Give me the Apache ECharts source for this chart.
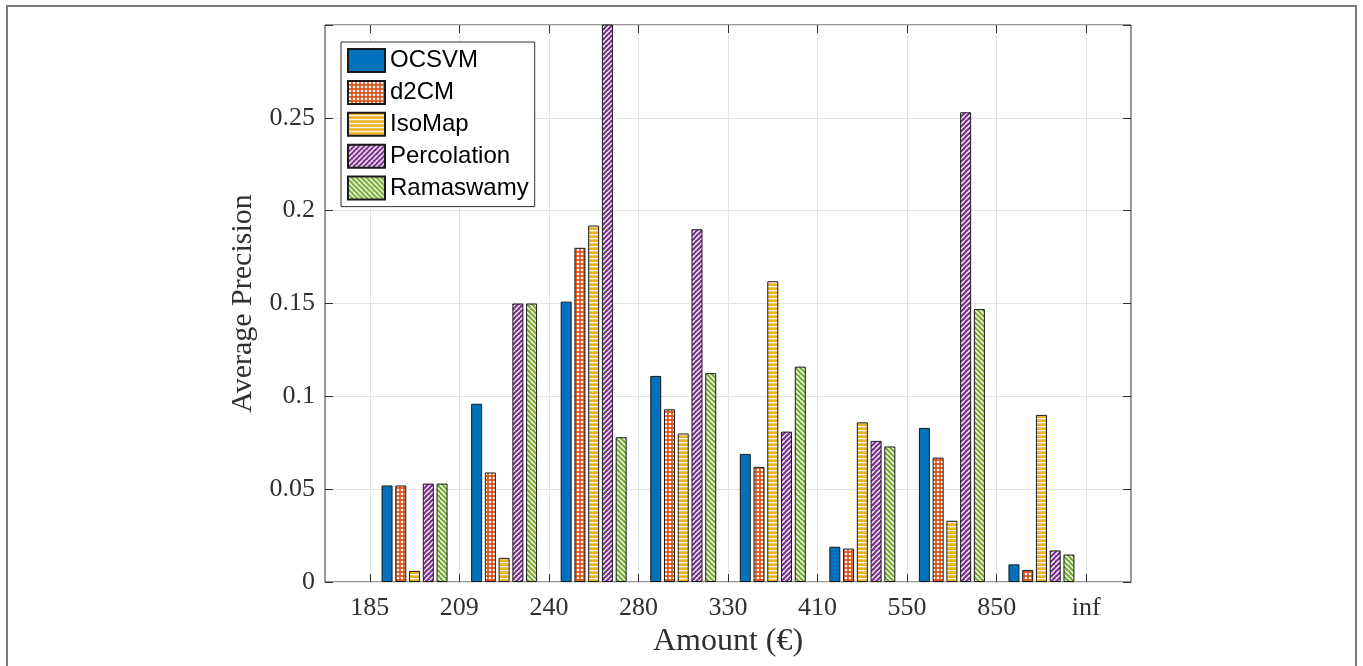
<!DOCTYPE html>
<html>
<head>
<meta charset="utf-8">
<script src="https://cdn.jsdelivr.net/npm/echarts@6/dist/echarts.min.js"></script>
<style>
  html, body { margin: 0; padding: 0; background: #fff; }
  #chart { width: 1363px; height: 666px; }
</style>
</head>
<body>
<div id="chart"></div>
<script>
// tick labels on the amount axis, bars sit between two ticks
const tickLabels = ['185', '209', '240', '280', '330', '410', '550', '850', 'inf']
const groups = tickLabels.slice(0, -1).map((t, i) => t + '-' + tickLabels[i + 1])

const seriesNames = ['OCSVM', 'd2CM', 'IsoMap', 'Percolation', 'Ramaswamy']
const ocsvm = [0.052, 0.096, 0.151, 0.111, 0.069, 0.019, 0.083, 0.0095]
const d2cm = [0.052, 0.059, 0.180, 0.093, 0.062, 0.018, 0.067, 0.0065]
const isoMap = [0.006, 0.013, 0.192, 0.080, 0.162, 0.086, 0.033, 0.090]
const percolation = [0.053, 0.150, 0.320, 0.190, 0.081, 0.076, 0.253, 0.017]
const ramaswamy = [0.053, 0.150, 0.078, 0.1125, 0.116, 0.073, 0.147, 0.0148]

const yMax = 0.3
const yStep = 0.05

// hatch patterns (MATLAB hatchfill look)
function makePattern(size, bg, draw) {
  const c = document.createElement('canvas')
  c.width = size
  c.height = size
  const ctx = c.getContext('2d')
  ctx.fillStyle = bg
  ctx.fillRect(0, 0, size, size)
  ctx.fillStyle = '#fff'
  ctx.strokeStyle = '#fff'
  draw(ctx, size)
  return { image: c, repeat: 'repeat' }
}

const fills = [
  '#0072BD',
  makePattern(4, '#D95319', (ctx) => {
    ctx.beginPath()
    ctx.arc(2, 2, 1.35, 0, Math.PI * 2)
    ctx.fill()
  }),
  makePattern(4, '#EDB120', (ctx, s) => {
    ctx.fillRect(0, 2, s, 1.3)
  }),
  makePattern(5, '#7E2F8E', (ctx, s) => {
    ctx.lineWidth = 1.4
    ctx.beginPath()
    for (let k = -1; k <= 1; k++) {
      ctx.moveTo(k * s, s)
      ctx.lineTo(k * s + s, 0)
    }
    ctx.stroke()
  }),
  makePattern(5, '#77AC30', (ctx, s) => {
    ctx.lineWidth = 1.4
    ctx.beginPath()
    for (let k = -1; k <= 1; k++) {
      ctx.moveTo(k * s, 0)
      ctx.lineTo(k * s + s, s)
    }
    ctx.stroke()
  })
]

const serifFont = '"Liberation Serif", "Times New Roman", serif'
const sansFont = '"Liberation Sans", Arial, sans-serif'
const axisColor = '#303030'
const gridColor = '#e2e2e2'

// outer axes box and inner bar area (half a band in from each side)
const boxLeft = 325
const boxRight = 1131
const boxTop = 25
const boxBottom = 582
const band = (boxRight - boxLeft) / tickLabels.length

const chart = echarts.init(document.getElementById('chart'))

const dataList = [ocsvm, d2cm, isoMap, percolation, ramaswamy]

const option = {
  animation: false,
  backgroundColor: '#fff',
  graphic: [{
    type: 'rect',
    shape: { x: 7, y: 6, width: 1349, height: 720 },
    style: { fill: null, stroke: '#7a7a7a', lineWidth: 2 },
    silent: true
  }],
  grid: [{
    left: boxLeft,
    right: 1363 - boxRight,
    top: boxTop,
    bottom: 666 - boxBottom,
    show: true,
    borderColor: axisColor,
    borderWidth: 1,
    backgroundColor: 'transparent'
  }, {
    left: boxLeft + band / 2,
    right: 1363 - boxRight + band / 2,
    top: boxTop,
    bottom: 666 - boxBottom
  }],
  legend: {
    orient: 'vertical',
    left: 341,
    top: 42,
    itemWidth: 37,
    itemHeight: 23,
    itemGap: 6.9,
    padding: [6, 6, 6, 6],
    backgroundColor: '#fff',
    borderColor: axisColor,
    borderWidth: 1,
    borderRadius: 0,
    icon: 'rect',
    textStyle: { fontFamily: sansFont, fontSize: 24, lineHeight: 23, color: '#000' },
    data: seriesNames
  },
  xAxis: [{
    gridIndex: 0,
    type: 'category',
    data: tickLabels,
    boundaryGap: true,
    axisLine: { show: false },
    axisTick: { show: false },
    splitLine: { show: false },
    axisLabel: {
      interval: 0,
      margin: 13,
      fontFamily: serifFont,
      fontSize: 26,
      color: axisColor
    },
    name: 'Amount (€)',
    nameLocation: 'middle',
    nameGap: 43,
    nameTextStyle: { fontFamily: serifFont, fontSize: 32, color: axisColor }
  }, {
    gridIndex: 1,
    type: 'category',
    data: groups,
    boundaryGap: true,
    axisLine: { show: false },
    axisLabel: { show: false },
    axisTick: { show: true, inside: true, length: 8, interval: 0, lineStyle: { color: axisColor } },
    splitLine: { show: true, interval: 0, lineStyle: { color: gridColor, width: 1 } }
  }, {
    gridIndex: 1,
    type: 'category',
    position: 'top',
    data: groups,
    boundaryGap: true,
    axisLine: { show: false },
    axisLabel: { show: false },
    axisTick: { show: true, inside: true, length: 8, interval: 0, lineStyle: { color: axisColor } },
    splitLine: { show: false }
  }],
  yAxis: [{
    gridIndex: 0,
    type: 'value',
    min: 0,
    max: yMax,
    interval: yStep,
    axisLine: { show: false },
    axisTick: { show: true, inside: true, length: 8, lineStyle: { color: axisColor } },
    splitLine: { show: true, lineStyle: { color: gridColor, width: 1 } },
    axisLabel: {
      margin: 10,
      fontFamily: serifFont,
      fontSize: 26,
      color: axisColor,
      formatter: (v) => (v >= yMax - 1e-9 ? '' : String(Number(v.toFixed(2))))
    },
    name: 'Average Precision',
    nameLocation: 'middle',
    nameGap: 66,
    nameTextStyle: { fontFamily: serifFont, fontSize: 30, color: axisColor }
  }, {
    gridIndex: 0,
    type: 'value',
    position: 'right',
    min: 0,
    max: yMax,
    interval: yStep,
    axisLine: { show: false },
    axisTick: { show: true, inside: true, length: 8, lineStyle: { color: axisColor } },
    splitLine: { show: false },
    axisLabel: { show: false }
  }, {
    gridIndex: 1,
    type: 'value',
    min: 0,
    max: yMax,
    interval: yStep,
    show: false,
    splitLine: { show: false }
  }],
  series: seriesNames.map((name, i) => ({
    name: name,
    type: 'bar',
    xAxisIndex: 1,
    yAxisIndex: 2,
    barWidth: 11,
    barGap: '25%',
    itemStyle: {
      color: fills[i],
      borderColor: '#1a1a1a',
      borderWidth: 1
    },
    emphasis: { disabled: true },
    data: dataList[i]
  }))
}

chart.setOption(option)
</script>
</body>
</html>
